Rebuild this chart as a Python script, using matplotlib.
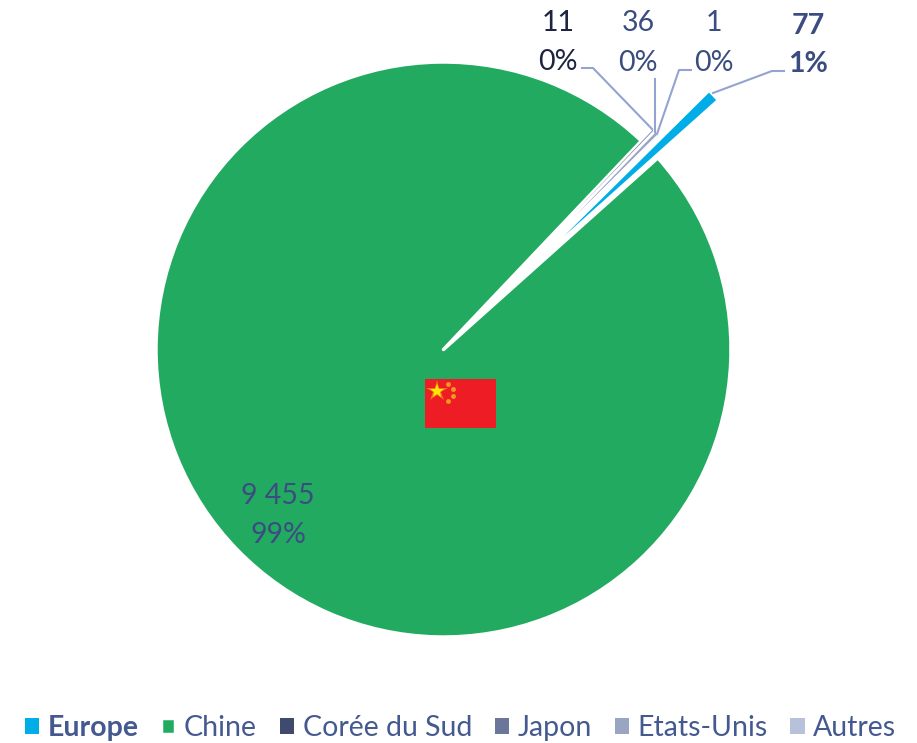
import matplotlib
matplotlib.use('Agg')
import matplotlib.pyplot as plt
from matplotlib.lines import Line2D
from matplotlib.patches import Rectangle

W, H = 917, 743
CX, CY, R = 443.5, 349.5, 287.5

categories = ['Europe', 'Chine', 'Corée du Sud', 'Japon', 'Etats-Unis', 'Autres']
values = [77, 9455, 0, 11, 36, 1]
colors = ['#00ADE6', '#22AA60', '#3F4A6E', '#6B769B', '#9AA5C4', '#B8C1DA']
value_labels = ['77', '9 455', '11', '36', '1']
pct_labels = ['1%', '99%', '0%', '0%', '0%']

plt.rcParams['font.family'] = ['Lato', 'DejaVu Sans']

fig = plt.figure(figsize=(W / 100, H / 100), dpi=100)
ax = fig.add_axes([0, 0, 1, 1])

explode = [0.575, 0, 0.655, 0.655, 0.655, 0.655]
wedges, _ = ax.pie(values, explode=explode, colors=colors, startangle=44.7,
                   counterclock=False, radius=1, normalize=True)
ax.set_xlim(-CX / R, (W - CX) / R)
ax.set_ylim(-(H - CY) / R, CY / R)
ax.set_aspect('equal')
ax.axis('off')

# les tranches détachées sont plus courtes que le reste du camembert
wedges[0].set_radius(0.71)
for w in wedges[2:]:
    w.set_radius(0.40)
wedges[1].set_edgecolor('white')
wedges[1].set_linewidth(2.5)
wedges[1].set_joinstyle('round')


def fx(x):
    return x / W


def fy(y):
    return 1 - y / H


def put(x, y, s, color, weight='normal', size=20.5):
    fig.text(fx(x), fy(y), s, color=color, fontsize=size, fontweight=weight,
             ha='center', va='center')


text_blue = '#3B4D80'
label_colors = [text_blue, text_blue, '#1E2440', text_blue, text_blue]
label_weights = ['bold', 'normal', 'normal', 'normal', 'normal']
val_pos = [(808, 26), (278, 496), (558, 23), (638, 23), (714, 23)]
pct_pos = [(808, 64), (278, 535), (558, 62), (638, 63), (714, 63)]
for i in range(5):
    put(*val_pos[i], value_labels[i], label_colors[i], label_weights[i])
    put(*pct_pos[i], pct_labels[i], label_colors[i], label_weights[i])

# traits de rappel
leaders = [
    ([582, 593, 652], [68, 68, 129]),
    ([655, 655], [79, 132]),
    ([691, 679, 657], [70, 70, 134]),
    ([784, 772, 713], [71, 71, 93]),
]
for xs, ys in leaders:
    fig.add_artist(Line2D([fx(x) for x in xs], [fy(y) for y in ys],
                          color='#94A3D0', lw=1.5, transform=fig.transFigure))

# drapeau chinois
fig.add_artist(Rectangle((fx(425), fy(428)), 71 / W, 49 / H, color='#EE1C25',
                         lw=0, transform=fig.transFigure))
fig.add_artist(Line2D([fx(437)], [fy(391)], marker='*', ms=16, color='#F09A20',
                      mew=0, alpha=0.7, transform=fig.transFigure))
fig.add_artist(Line2D([fx(437)], [fy(391)], marker='*', ms=10, color='#FFE600',
                      mew=0, transform=fig.transFigure))
for x, y in [(448, 384), (453, 389), (453, 396), (448, 401)]:
    fig.add_artist(Line2D([fx(x)], [fy(y)], marker='o', ms=3.5, color='#EE9A20',
                          mew=0, transform=fig.transFigure))

leg = ax.legend(wedges, categories, ncol=6, frameon=False, fontsize=20.5,
                loc='center', bbox_to_anchor=(fx(460.5), fy(728)),
                bbox_transform=fig.transFigure, handlelength=0.5, handleheight=0.5,
                handletextpad=0.3, columnspacing=0.8, borderpad=0, borderaxespad=0)
for t in leg.get_texts():
    t.set_color('#44598F')
leg.get_texts()[0].set_fontweight('bold')

fig.savefig('out.png', dpi=100)
plt.close(fig)
